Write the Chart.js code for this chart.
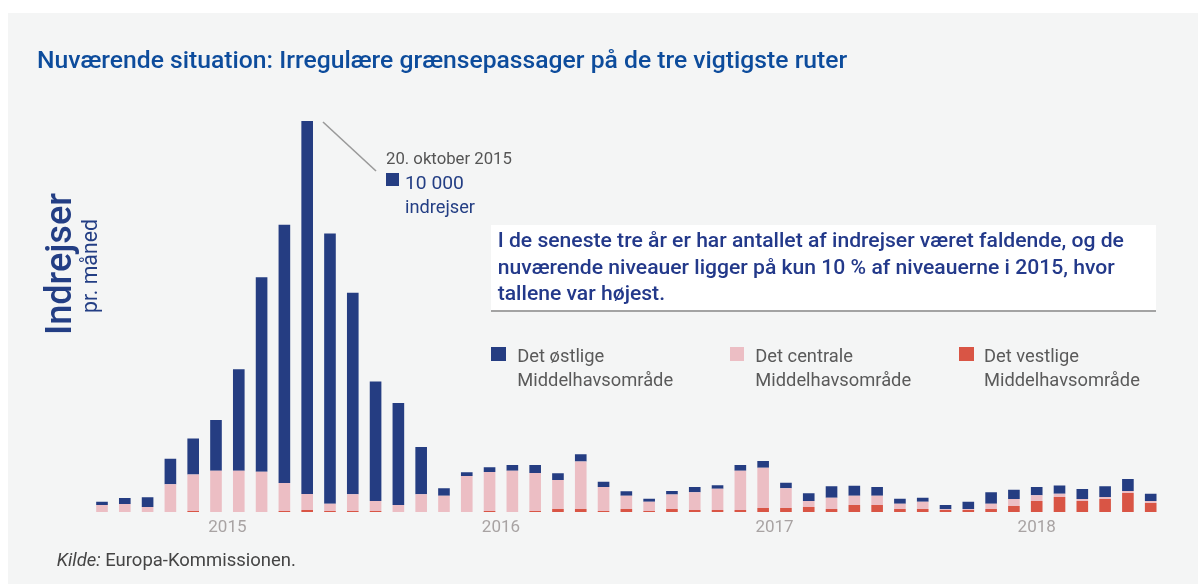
<!DOCTYPE html>
<html lang="da">
<head>
<meta charset="utf-8">
<script src="https://cdn.jsdelivr.net/npm/chart.js@4.4.1/dist/chart.umd.min.js"></script>
<style>
  html, body { margin: 0; padding: 0; background: #ffffff; width: 1198px; height: 584px; overflow: hidden; }
  #panel { position: absolute; left: 8px; top: 13px; right: 0; bottom: 0; background: #f4f5f5; }
  #wrap { position: absolute; left: 0; top: 0; width: 1198px; height: 584px; }
  .t { position: absolute; white-space: nowrap; line-height: normal; margin: 0; padding: 0; }
  .sq { position: absolute; }
  #box { position: absolute; left: 491px; top: 225px; width: 665px; height: 85px; background: #ffffff; border-bottom: 2px solid #a3a3a3; }
  svg { position: absolute; left: 0; top: 0; }
</style>
</head>
<body>
<div id="panel"></div>
<div id="box"></div>
<svg width="1198" height="584"><line x1="323" y1="122" x2="376" y2="171" stroke="#9a9a9a" stroke-width="1.6"/></svg>
<div id="wrap"><canvas id="c" width="1198" height="584"></canvas></div>
<div id="texts"></div>
<script>
// ---------- data (thousands of irregular crossings per month) ----------
const categories = [
  'jan 2015','feb 2015','mar 2015','apr 2015','maj 2015','jun 2015','jul 2015','aug 2015','sep 2015','okt 2015','nov 2015','dec 2015',
  'jan 2016','feb 2016','mar 2016','apr 2016','maj 2016','jun 2016','jul 2016','aug 2016','sep 2016','okt 2016','nov 2016','dec 2016',
  'jan 2017','feb 2017','mar 2017','apr 2017','maj 2017','jun 2017','jul 2017','aug 2017','sep 2017','okt 2017','nov 2017','dec 2017',
  'jan 2018','feb 2018','mar 2018','apr 2018','maj 2018','jun 2018','jul 2018','aug 2018','sep 2018','okt 2018','nov 2018'
];
const yearLabels = ['2015', '2016', '2017', '2018'];
const westValues = [0,0,0,0,0.6,0,0,0,0.6,1.1,0.6,0.6,0.6,0,0,0,0,0.6,0,0.6,1.7,1.7,0.6,1.7,0.6,1.7,1.1,1.1,1.1,2.2,2.2,2.8,1.7,3.9,3.9,1.7,1.7,1.1,1.1,1.7,3.3,6.1,8.3,6.1,7.2,10.5,5.0];
const centralValues = [3.9,4.4,2.8,15.2,20.0,22.7,22.7,22.2,15.4,8.8,3.9,9.2,5.5,3.9,9.7,9.0,19.8,21.4,22.7,20.9,15.9,26.0,13.2,7.3,5.0,7.9,9.7,11.7,21.6,22.2,10.8,3.3,6.1,5.0,5.1,2.8,3.9,0.4,0.6,2.8,3.9,3.1,1.7,1.1,1.1,1.1,1.1];
const eastValues = [1.7,3.3,5.3,14.1,19.8,27.9,55.8,106.9,141.9,205.1,148.6,110.7,65.6,56.1,26.0,4.1,2.0,2.6,3.1,4.4,3.7,4.1,2.8,2.4,1.7,1.9,2.9,1.9,3.1,3.7,3.1,4.2,6.4,5.5,4.8,2.8,2.2,2.4,3.9,6.4,5.0,4.6,4.6,5.5,5.9,6.6,3.9];
const seriesNames = ['Det vestlige Middelhavsområde', 'Det centrale Middelhavsområde', 'Det østlige Middelhavsområde'];

// ---------- styles ----------
const NAVY = '#253d82', PINK = '#ecbec4', RED = '#d95545';

// year tick positions: centre of each year's months
const yearTicks = yearLabels.map(y => {
  const idx = categories.map((c, i) => c.endsWith(y) ? i : -1).filter(i => i >= 0);
  return (idx[0] + idx[idx.length - 1]) / 2;
});

new Chart(document.getElementById('c'), {
  type: 'bar',
  data: {
    labels: categories,
    datasets: [
      { label: seriesNames[0], data: westValues, backgroundColor: RED },
      { label: seriesNames[1], data: centralValues, backgroundColor: PINK },
      { label: seriesNames[2], data: eastValues, backgroundColor: NAVY }
    ]
  },
  options: {
    responsive: false,
    animation: false,
    layout: { padding: { left: 90.6, right: 35.9, top: 121, bottom: 42 } },
    datasets: { bar: { categoryPercentage: 1, barPercentage: 0.51 } },
    plugins: { legend: { display: false }, tooltip: { enabled: false }, title: { display: false } },
    scales: {
      x: { type: 'category', stacked: true, display: false, offset: true },
      years: {
        type: 'linear', position: 'bottom', offset: false,
        min: -0.5, max: categories.length - 0.5,
        grid: { display: false, offset: false, drawTicks: false, tickLength: 0 },
        border: { display: false },
        afterBuildTicks: s => { s.ticks = yearTicks.map(v => ({ value: v })); },
        afterFit: s => { s.height = 30; },
        ticks: {
          autoSkip: false, maxRotation: 0, minRotation: 0, padding: 6,
          color: '#a8a3a3', font: { family: 'Roboto', size: 17 },
          callback: (v, i) => yearLabels[i]
        }
      },
      y: { stacked: true, display: false, min: 0, max: 215 }
    }
  }
});

// ---------- overlay texts ----------
const host = document.getElementById('texts');
function addText(html, o) {
  const el = document.createElement('div');
  el.className = 't';
  el.innerHTML = html;
  el.style.fontFamily = o.family || 'Roboto';
  el.style.fontWeight = o.weight || 400;
  el.style.color = o.color;
  el.style.fontSize = (o.size || 20) + 'px';
  el.style.left = '0px'; el.style.top = '0px';
  host.appendChild(el);
  if (o.width) {
    const w = el.getBoundingClientRect().width;
    el.style.fontSize = ((o.size || 20) * o.width / w) + 'px';
  }
  const probe = document.createElement('span');
  probe.style.cssText = 'display:inline-block;width:0;height:0;vertical-align:baseline';
  el.appendChild(probe);
  const off = probe.getBoundingClientRect().top - el.getBoundingClientRect().top;
  if (o.rotate) {
    el.style.transformOrigin = '0px ' + off + 'px';
    el.style.transform = 'rotate(-90deg)';
  }
  el.style.left = o.x + 'px';
  el.style.top = (o.y - off) + 'px';
  return parseFloat(el.style.fontSize);
}
function addSquare(x, y, w, h, c) {
  const d = document.createElement('div');
  d.className = 'sq';
  d.style.cssText = `left:${x}px;top:${y}px;width:${w}px;height:${h}px;background:${c}`;
  host.appendChild(d);
}

addText('Nuværende situation: Irregulære grænsepassager på de tre vigtigste ruter',
  { x: 37, y: 68, width: 811, weight: 500, color: '#0d4c9c' });
addText('Indrejser', { x: 70.5, y: 335, width: 142, weight: 500, color: '#233e84', rotate: true });
addText('pr. måned', { x: 97, y: 313, width: 94, weight: 400, color: '#233e84', rotate: true });

addText('20. oktober 2015', { x: 386, y: 164.3, width: 126, color: '#555555' });
addSquare(386, 172.7, 13, 13, NAVY);
addText('10 000', { x: 405, y: 188.7, width: 59, color: '#233e84' });
addText('indrejser', { x: 405, y: 212.7, width: 70, color: '#233e84' });

const boxLines = [
  'I de seneste tre år er har antallet af indrejser været faldende, og de',
  'nuværende niveauer ligger på kun 10 % af niveauerne i 2015, hvor',
  'tallene var højest.'
];
const bs = addText(boxLines[0], { x: 497.7, y: 247.3, width: 626.7, weight: 500, color: '#23398a' });
addText(boxLines[1], { x: 497.7, y: 273.5, size: bs, weight: 500, color: '#23398a' });
addText(boxLines[2], { x: 497.7, y: 299.8, size: bs, weight: 500, color: '#23398a' });

const legendItems = [
  { first: 'Det østlige', color: NAVY, sx: 491, tx: 517.3 },
  { first: 'Det centrale', color: PINK, sx: 729.5, tx: 755.3 },
  { first: 'Det vestlige', color: RED, sx: 959, tx: 984 }
];
let ls = null;
legendItems.forEach(it => {
  addSquare(it.sx, 347.3, 14.5, 13.5, it.color);
  ls = addText('Middelhavsområde', ls ? { x: it.tx, y: 385.5, size: ls, color: '#5a5a5a' } : { x: it.tx, y: 385.5, width: 156, color: '#5a5a5a' });
  addText(it.first, { x: it.tx, y: 361.5, size: ls, color: '#5a5a5a' });
});

addText('<i>Kilde:</i> Europa-Kommissionen.', { x: 56.7, y: 566, width: 239.4, color: '#454545' });
</script>
</body>
</html>
